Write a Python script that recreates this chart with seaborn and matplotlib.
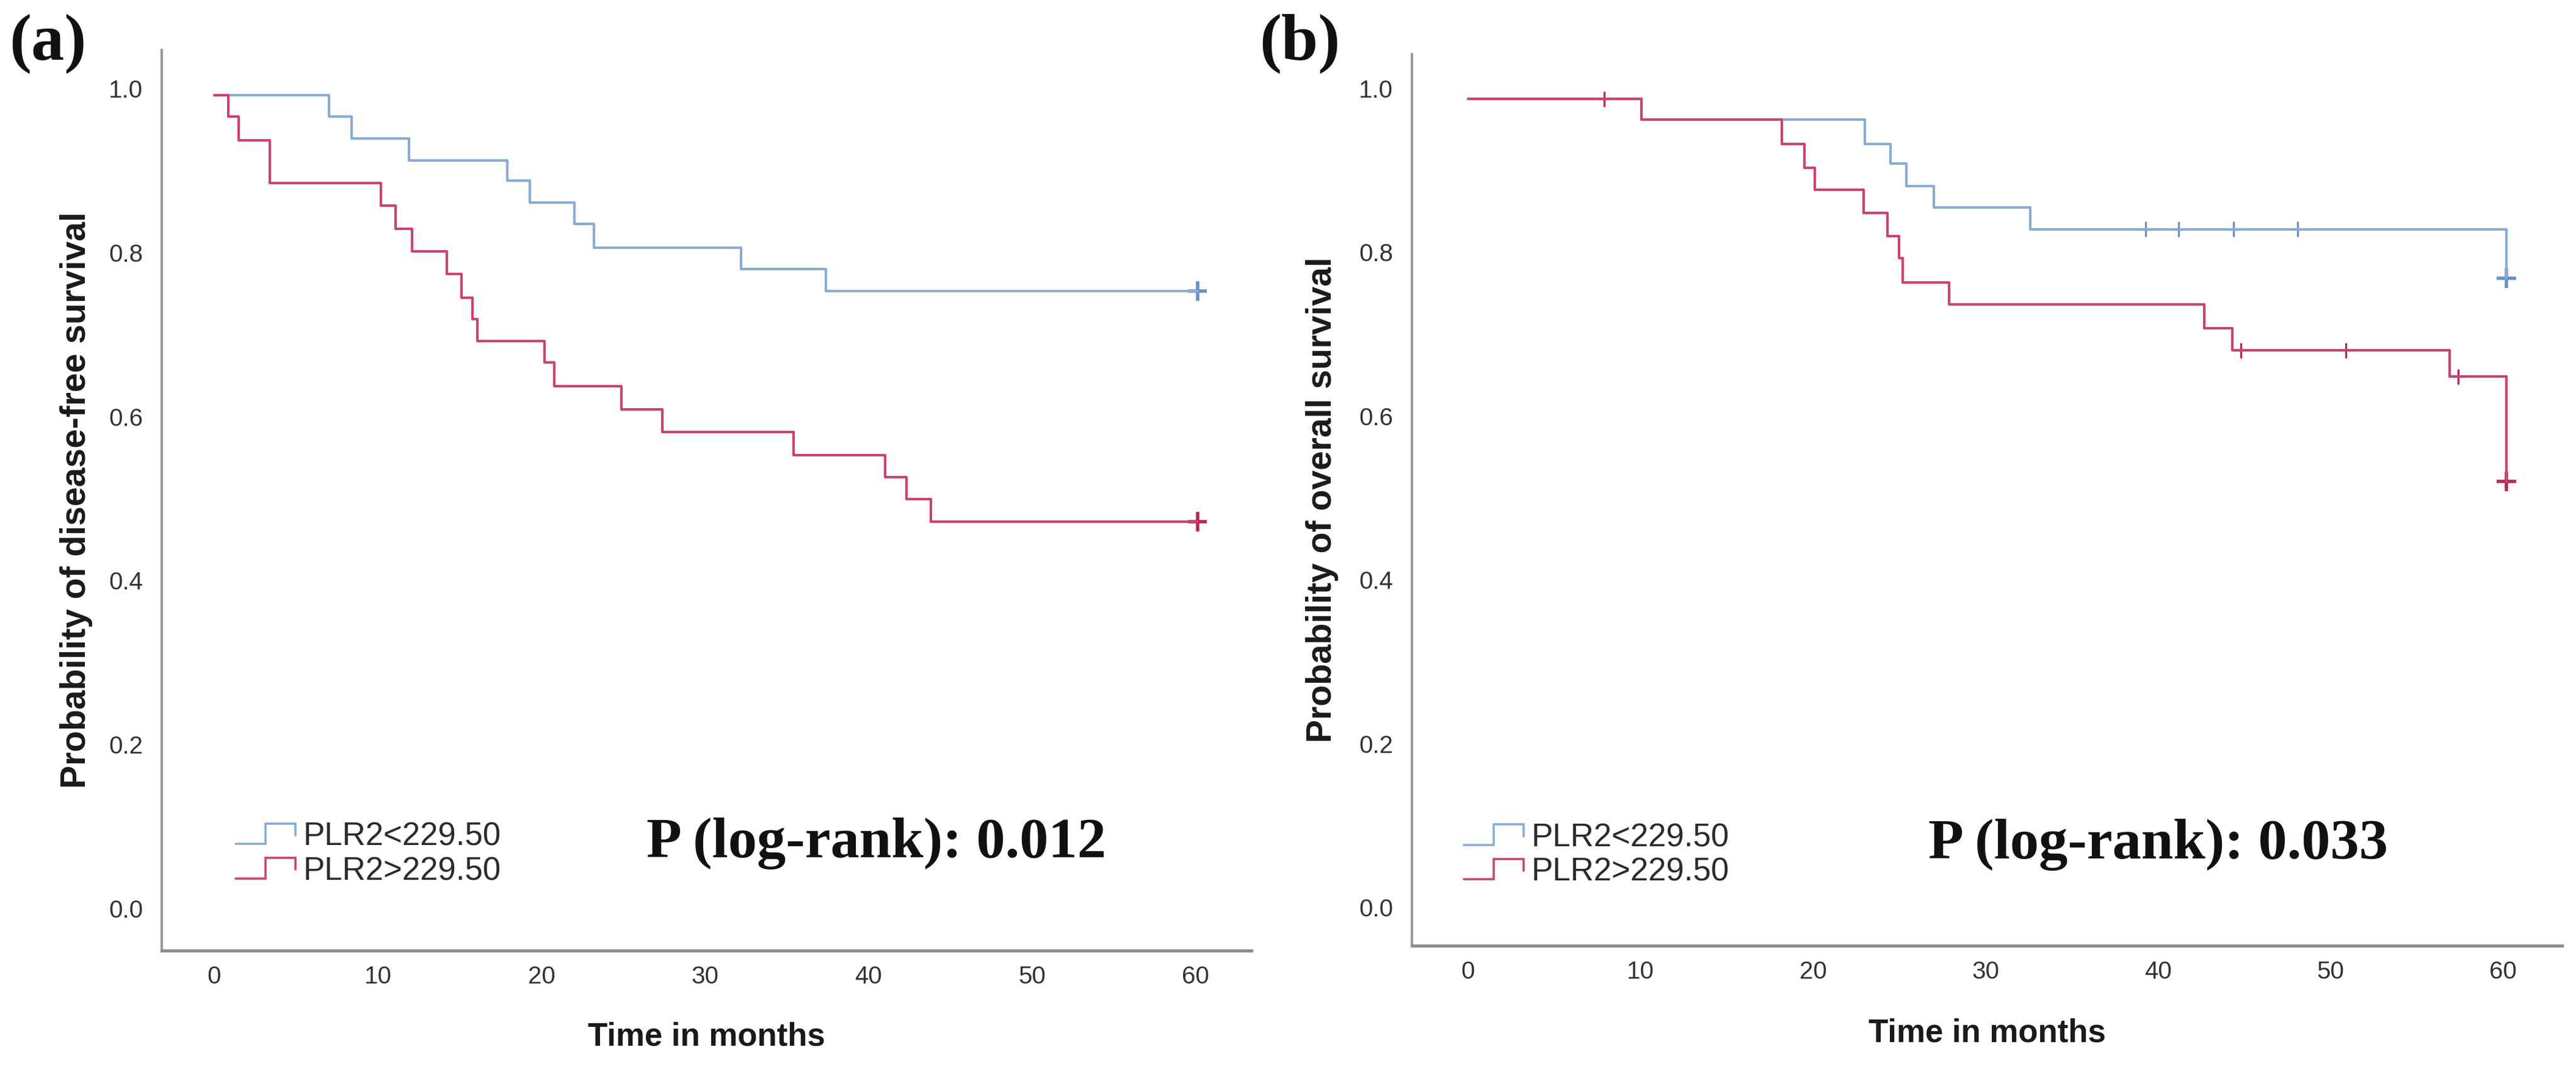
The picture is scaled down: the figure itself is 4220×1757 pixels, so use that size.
import numpy as np
import pandas as pd
import matplotlib
matplotlib.use("Agg")
import matplotlib.pyplot as plt
import seaborn as sns
from matplotlib.legend_handler import HandlerBase
from matplotlib.lines import Line2D

# ---------------- data ----------------
groups = ["PLR2<229.50", "PLR2>229.50"]

# Panel (a): disease-free survival
a_low_time = [0, 7.0, 8.4, 11.9, 17.9, 19.3, 22.0, 23.2, 32.2, 37.4, 60.1]
a_low_surv = [0.992, 0.966, 0.939, 0.912, 0.888, 0.861, 0.835, 0.806, 0.780, 0.753, 0.753]
a_high_time = [0, 0.84, 1.5, 3.4, 10.2, 11.1, 12.1, 14.2, 15.1, 15.8, 16.1,
               20.2, 20.8, 24.9, 27.4, 35.4, 41.0, 42.3, 43.8, 60.1]
a_high_surv = [0.992, 0.966, 0.937, 0.885, 0.857, 0.829, 0.801, 0.774, 0.745, 0.719, 0.692,
               0.666, 0.637, 0.609, 0.581, 0.553, 0.526, 0.499, 0.472, 0.472]
a_low_cens_time, a_low_cens_surv = [], []
a_high_cens_time, a_high_cens_surv = [], []
a_low_end = (60.1, 0.753)
a_high_end = (60.1, 0.472)

# Panel (b): overall survival
b_low_time = [0, 10.05, 23.0, 24.5, 25.4, 27.0, 32.6, 60.2]
b_low_surv = [0.987, 0.962, 0.932, 0.908, 0.881, 0.855, 0.828, 0.768]
b_high_time = [0, 10.05, 18.2, 19.5, 20.1, 22.95, 24.3, 25.0, 25.2, 27.9, 42.7, 44.3, 56.9, 60.2]
b_high_surv = [0.987, 0.962, 0.932, 0.903, 0.876, 0.848, 0.820, 0.793, 0.763, 0.736, 0.707,
               0.680, 0.648, 0.520]
b_low_cens_time = [39.3, 41.2, 44.4, 48.1]
b_low_cens_surv = [0.828, 0.828, 0.828, 0.828]
b_high_cens_time = [7.9, 44.8, 50.9, 57.4]
b_high_cens_surv = [0.987, 0.680, 0.680, 0.648]
b_low_end = (60.2, 0.768)
b_high_end = (60.2, 0.520)

x_ticks = [0, 10, 20, 30, 40, 50, 60]
y_ticks = [0.0, 0.2, 0.4, 0.6, 0.8, 1.0]
y_labels = ["Probability of disease-free survival", "Probability of overall survival"]
x_label = "Time in months"
p_texts = ["P (log-rank): 0.012", "P (log-rank): 0.033"]
panel_tags = ["(a)", "(b)"]

line_colors = {groups[0]: "#8aacd2", groups[1]: "#c8456d"}
mark_colors = {groups[0]: "#6b91c2", groups[1]: "#b32a52"}

# ---------------- style ----------------
sns.set_style("white")
plt.rcParams["font.family"] = ["Liberation Sans", "DejaVu Sans"]
serif = ["Liberation Serif", "DejaVu Serif"]

W, H = 4220, 1757
fig = plt.figure(figsize=(W / 100, H / 100), dpi=100)

# axes rectangles (pixel estimates -> figure fractions)
ax_a = fig.add_axes([265 / W, 1 - 1558 / H, (2050 - 265) / W, (1558 - 82) / H])
ax_b = fig.add_axes([2313 / W, 1 - 1550 / H, (4197 - 2313) / W, (1550 - 89) / H])


class StepHandler(HandlerBase):
    def create_artists(self, legend, orig_handle, xdescent, ydescent,
                       width, height, fontsize, trans):
        x0, y0 = -xdescent, -ydescent
        xs = [x0, x0 + 0.5 * width, x0 + 0.5 * width, x0 + width, x0 + width]
        ys = [y0 + 0.05 * height, y0 + 0.05 * height, y0 + 1.0 * height,
              y0 + 1.0 * height, y0 + 0.45 * height]
        ln = Line2D(xs, ys, color=orig_handle.get_color(),
                    lw=orig_handle.get_linewidth(), transform=trans,
                    solid_joinstyle="miter")
        return [ln]


def km_df(t1, s1, t2, s2):
    return pd.concat([
        pd.DataFrame({"time": t1, "surv": s1, "group": groups[0]}),
        pd.DataFrame({"time": t2, "surv": s2, "group": groups[1]}),
    ], ignore_index=True)


def draw_panel(ax, curves, cens, ends, xlim, ylim, ylab, ptext, p_xy, leg_xy,
               ylab_x, xlab_y, tag, tag_xy):
    df = km_df(*curves)
    sns.lineplot(data=df, x="time", y="surv", hue="group", palette=line_colors,
                 drawstyle="steps-post", estimator=None, sort=False, lw=3.0,
                 legend=False, ax=ax)
    cdf = km_df(*cens)
    if len(cdf):
        sns.scatterplot(data=cdf, x="time", y="surv", hue="group", palette=mark_colors,
                        marker="+", s=330, linewidth=2.4, legend=False, ax=ax)
    edf = pd.DataFrame({"time": [ends[0][0], ends[1][0]],
                        "surv": [ends[0][1], ends[1][1]],
                        "group": groups})
    sns.scatterplot(data=edf, x="time", y="surv", hue="group", palette=mark_colors,
                    marker="+", s=520, linewidth=4.0, legend=False, ax=ax)

    ax.set_xlim(*xlim)
    ax.set_ylim(*ylim)
    ax.set_xticks(x_ticks)
    ax.set_yticks(y_ticks)
    ax.set_yticklabels([f"{v:.1f}" for v in y_ticks])
    ax.tick_params(axis="both", length=0, labelsize=29, colors="#333333")
    ax.tick_params(axis="y", pad=22)
    ax.tick_params(axis="x", pad=17)
    for s in ["top", "right"]:
        ax.spines[s].set_visible(False)
    ax.spines["left"].set_color("#9a9a9a")
    ax.spines["left"].set_linewidth(3.0)
    ax.spines["bottom"].set_color("#8c8c8c")
    ax.spines["bottom"].set_linewidth(3.6)

    ax.set_xlabel(x_label, fontsize=38, fontweight="bold", color="#1a1a1a")
    ax.xaxis.set_label_coords(0.5, xlab_y)
    ax.set_ylabel(ylab, fontsize=41, fontweight="bold", color="#1a1a1a")
    ax.yaxis.set_label_coords(ylab_x, 0.5)

    handles = [Line2D([], [], color=line_colors[g], lw=2.6) for g in groups]
    ax.legend(handles, groups, handler_map={Line2D: StepHandler()},
              loc="center left", bbox_to_anchor=leg_xy, frameon=False,
              fontsize=38, labelcolor="#2b2b2b", handlelength=1.85,
              handleheight=0.65, handletextpad=0.25, labelspacing=0.12,
              borderpad=0, borderaxespad=0)

    fig.text(p_xy[0] / W, 1 - p_xy[1] / H, ptext, family=serif, fontsize=68,
             fontweight="bold", color="#111111", ha="left", va="baseline")
    fig.text(tag_xy[0] / W, 1 - tag_xy[1] / H, tag, family=serif, fontsize=78,
             fontweight="bold", color="#111111", ha="left", va="center")


draw_panel(ax_a,
           (a_low_time, a_low_surv, a_high_time, a_high_surv),
           (a_low_cens_time, a_low_cens_surv, a_high_cens_time, a_high_cens_surv),
           (a_low_end, a_high_end),
           (-3.21, 63.4), (-0.0513, 1.0469), y_labels[0], p_texts[0],
           (1059, 1405), (0.0678, 0.107), -0.0633, -0.079, panel_tags[0], (15, 72))

draw_panel(ax_b,
           (b_low_time, b_low_surv, b_high_time, b_high_surv),
           (b_low_cens_time, b_low_cens_surv, b_high_cens_time, b_high_cens_surv),
           (b_low_end, b_high_end),
           (-3.26, 63.43), (-0.047, 1.0417), y_labels[1], p_texts[1],
           (3159, 1407), (0.0451, 0.1016), -0.0637, -0.081, panel_tags[1], (2063, 72))

fig.savefig("out.png", dpi=100, facecolor="white")
